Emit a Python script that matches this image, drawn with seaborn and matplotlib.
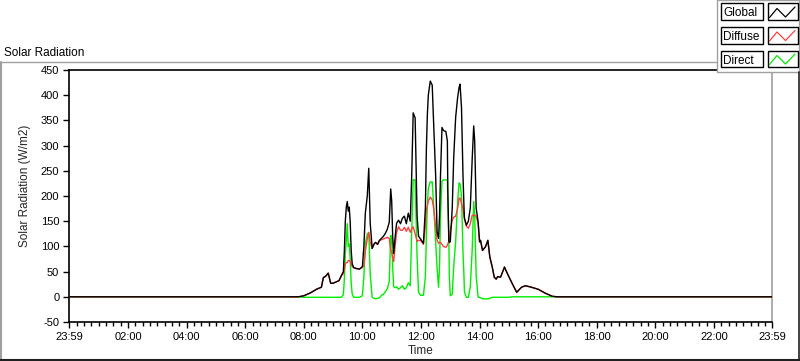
import matplotlib
matplotlib.use("Agg")
import numpy as np
import pandas as pd
import matplotlib.pyplot as plt
import seaborn as sns
from matplotlib.lines import Line2D
from matplotlib.patches import Rectangle

# ---------------- data (minutes since midnight, W/m2) ----------------
minutes = [0, 469, 480, 494, 506, 516, 520, 525, 530, 535, 540, 545, 552, 557,
           561, 563, 565, 567, 569, 571, 573, 575, 577, 579, 582, 588, 594, 600,
           603, 606, 610, 613, 616, 620, 624, 627, 631, 635, 639, 643, 647, 651,
           655, 658, 660, 662, 664, 667, 670, 674, 678, 682, 686, 690, 694, 698,
           701, 704, 708, 712, 715, 719, 725, 729, 731, 733, 735, 739, 743, 746,
           750, 753, 756, 758, 760, 763, 766, 771, 774, 775, 777, 778, 780, 784,
           787, 791, 795, 798, 800, 803, 806, 808, 809, 813, 817, 821, 825, 828,
           830, 833, 837, 840, 842, 846, 852, 857, 861, 866, 870, 874, 877, 883,
           891, 897, 907, 916, 926, 934, 946, 960, 975, 989, 999, 1439]
global_wm2 = [0, 0, 2, 8, 15, 19, 38, 41, 47, 27, 27, 29, 32, 42,
              50, 90, 150, 178, 189, 170, 178, 149, 92, 66, 58, 56, 55, 60,
              100, 166, 200, 255, 146, 96, 105, 108, 104, 112, 116, 120, 126, 134,
              148, 214, 190, 120, 86, 118, 146, 152, 145, 156, 160, 145, 166, 150,
              240, 365, 355, 160, 120, 115, 106, 176, 292, 360, 400, 428, 420, 342,
              242, 129, 116, 160, 242, 336, 330, 328, 309, 209, 110, 108, 109, 176,
              276, 356, 395, 415, 422, 375, 242, 180, 156, 142, 150, 176, 276, 339,
              309, 176, 149, 109, 112, 92, 99, 112, 79, 59, 39, 35, 40, 39,
              59, 46, 26, 9, 19, 22, 19, 15, 7, 1, 0, 0]
diffuse_wm2 = [0, 0, 2, 8, 15, 19, 38, 41, 47, 27, 27, 29, 32, 42,
               46, 55, 65, 68, 68, 72, 72, 70, 64, 60, 58, 56, 55, 58,
               62, 90, 115, 128, 108, 96, 105, 108, 104, 112, 113, 115, 116, 118,
               116, 92, 90, 78, 70, 100, 128, 139, 132, 132, 138, 130, 138, 128,
               135, 139, 125, 110, 112, 112, 104, 140, 172, 180, 190, 198, 192, 176,
               140, 112, 106, 108, 108, 104, 100, 98, 102, 105, 110, 120, 130, 152,
               158, 160, 175, 196, 196, 185, 176, 160, 155, 140, 136, 145, 162, 162,
               162, 160, 146, 109, 112, 92, 99, 112, 79, 59, 39, 35, 40, 39,
               59, 46, 26, 9, 19, 22, 19, 15, 7, 1, 0, 0]
direct_wm2 = [0, 0, -1, -1, -1, -1, -1, -1, -1, -1, -1, -1, -1, -1,
              4, 35, 85, 110, 145, 100, 105, 75, 28, 6, -1, -1, -1, 2,
              40, 106, 125, 127, 45, -1, -3, -4, -3, -2, 3, 5, 10, 16,
              30, 122, 118, 60, 20, 18, 20, 15, 18, 22, 15, 18, 28, 22,
              130, 232, 232, 80, 9, 3, 3, 40, 119, 180, 215, 228, 228, 180,
              110, 56, 19, 60, 162, 229, 232, 232, 232, 190, 120, 42, 2, 5,
              60, 109, 189, 226, 224, 200, 90, 42, 10, -1, -1, 20, 95, 189,
              162, 42, -1, -1, -2, -4, -4, -4, -3, -1, -1, -1, -1, -1,
              -1, -1, 0, 0, 0, 0, 0, 0, 0, 0, 0, 0]

series_names = ["Global", "Diffuse", "Direct"]
series_colors = ["#000000", "#ff4040", "#00ee00"]

tick_minutes = [-1, 120, 240, 360, 480, 600, 720, 840, 960, 1080, 1200, 1320, 1439]
tick_labels = ["23:59", "02:00", "04:00", "06:00", "08:00", "10:00", "12:00",
               "14:00", "16:00", "18:00", "20:00", "22:00", "23:59"]
y_ticks = [-50, 0, 50, 100, 150, 200, 250, 300, 350, 400, 450]

df = pd.DataFrame({"minute": minutes, "Global": global_wm2,
                   "Diffuse": diffuse_wm2, "Direct": direct_wm2})

# ---------------- style ----------------
sns.set_style("white")
plt.rcParams["font.family"] = ["Liberation Sans", "DejaVu Sans"]

W, H = 800, 361
fig = plt.figure(figsize=(W / 100, H / 100), dpi=100)
fig.patch.set_facecolor("white")

def fx(x):
    return x / W

def fy(y):
    return 1 - y / H

ax = fig.add_axes([fx(69), fy(322), (772 - 69) / W, (322 - 70) / H])

# draw order: direct, diffuse, global on top
for name, col, z in [("Direct", series_colors[2], 2), ("Diffuse", series_colors[1], 3),
                     ("Global", series_colors[0], 4)]:
    sns.lineplot(data=df, x="minute", y=name, color=col, linewidth=1.0,
                 estimator=None, ax=ax, zorder=z, legend=False)

ax.set_xlim(-1, 1439)
ax.set_ylim(-50, 450)
ax.set_xticks(tick_minutes)
ax.set_xticklabels(tick_labels)
minor = [m for m in range(15, 1439, 15) if m not in tick_minutes]
ax.set_xticks(minor, minor=True)
ax.set_yticks(y_ticks)
ax.set_yticklabels([str(v) for v in y_ticks])

ax.tick_params(axis="both", which="major", direction="out", length=4.5, width=1,
               color="black", labelsize=8, labelcolor="black", pad=2.5)
ax.tick_params(axis="x", which="major", length=4.5, pad=3)
ax.tick_params(axis="x", which="minor", direction="out", length=3, width=1,
               color="black")
ax.tick_params(left=True, bottom=True, which="both")

for side in ["left", "top", "bottom"]:
    ax.spines[side].set_color("black")
    ax.spines[side].set_linewidth(1.2)
ax.spines["right"].set_color("#a0a0a0")
ax.spines["right"].set_linewidth(1.2)

ax.set_xlabel("Time", fontsize=8.5, labelpad=2)
ax.set_ylabel("Solar Radiation (W/m2)", fontsize=8.5)
ax.yaxis.set_label_coords(-0.054, 0.54)

# ---------------- outer frame ----------------
def fline(xs, ys, color, lw=1.0):
    fig.add_artist(Line2D([fx(v) for v in xs], [fy(v) for v in ys],
                          color=color, linewidth=lw, transform=fig.transFigure))

fline([0.5, 717], [61.5, 61.5], "#a0a0a0")
fline([0.5, 0.5], [61.5, 361], "#a0a0a0", lw=1.5)
fline([0, 800], [359.8, 359.8], "#202020", lw=1.5)
fline([799.3, 799.3], [72, 361], "#202020", lw=1.2)

fig.text(fx(4), fy(55.5), "Solar Radiation", fontsize=8.5, ha="left", va="baseline",
         color="black")

# ---------------- legend panel ----------------
fig.add_artist(Rectangle((fx(716.5), fy(72)), (799 - 716.5) / W, 72 / H,
                         transform=fig.transFigure, facecolor="white",
                         edgecolor="#a0a0a0", linewidth=1.0))
row_top = [3.5, 27.0, 50.5]
for i, name in enumerate(series_names):
    t = row_top[i]
    fig.add_artist(Rectangle((fx(720.5), fy(t + 16.5)), (763 - 720.5) / W, 16.5 / H,
                             transform=fig.transFigure, facecolor="white",
                             edgecolor="black", linewidth=1.0))
    fig.add_artist(Rectangle((fx(767.5), fy(t + 16.5)), (797.5 - 767.5) / W, 16.5 / H,
                             transform=fig.transFigure, facecolor="white",
                             edgecolor="black", linewidth=1.0))
    fig.text(fx(723), fy(t + 13), name, fontsize=8.5, ha="left", va="baseline",
             color="black")
    zx = [769.5, 777, 785.5, 795]
    zy = [t + 14, t + 5, t + 13.5, t + 3.5]
    fline(zx, zy, series_colors[i], lw=0.9)

fig.savefig("out.png", dpi=100, facecolor="white")
